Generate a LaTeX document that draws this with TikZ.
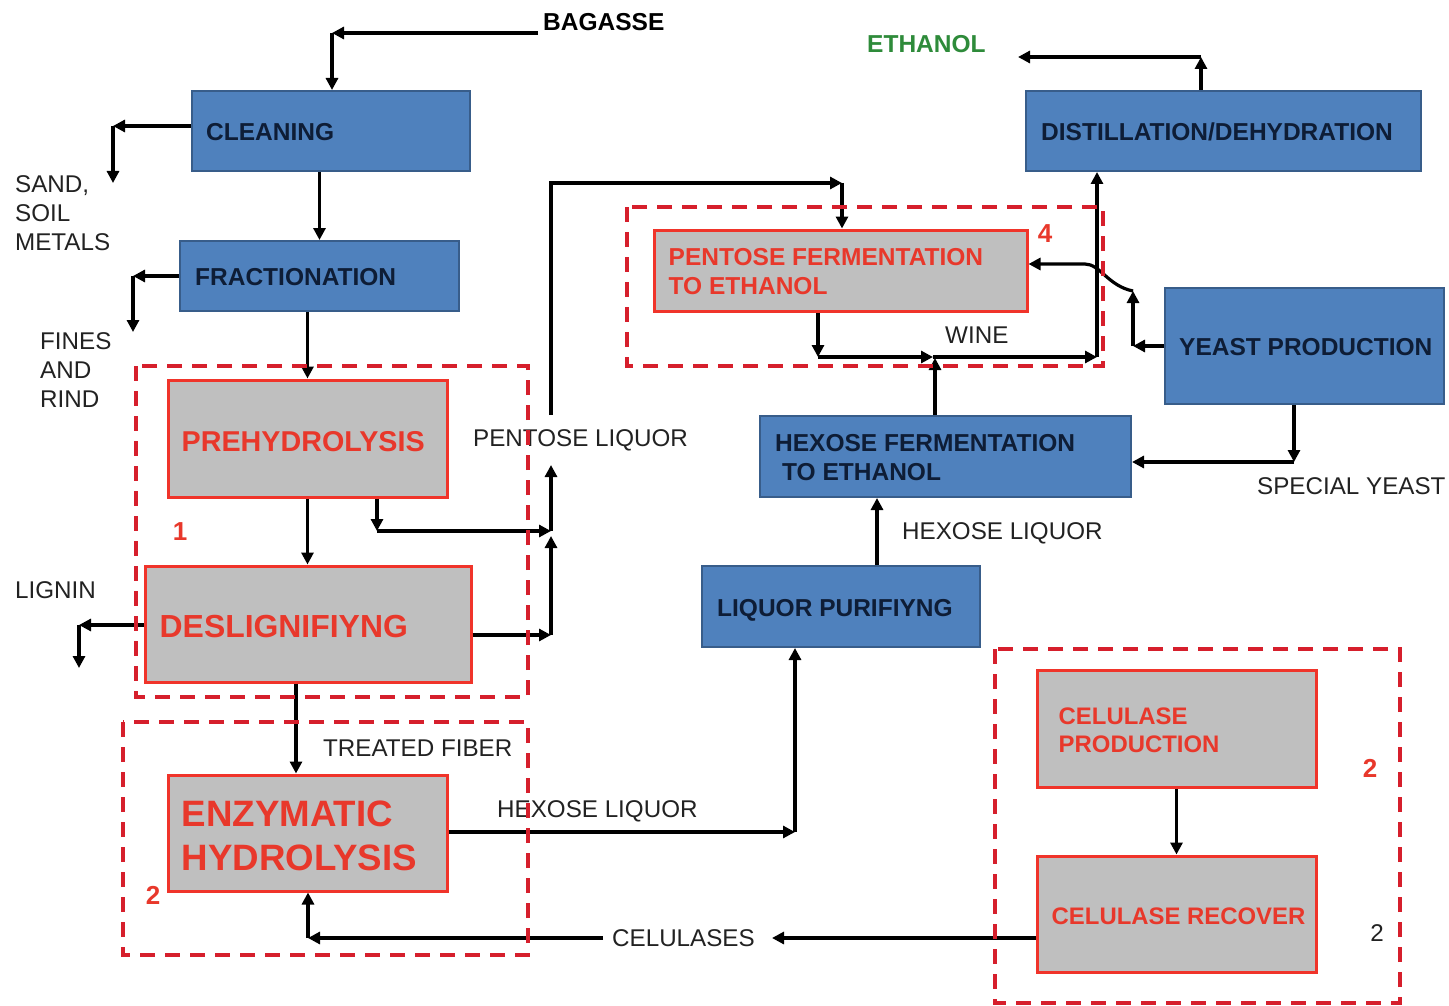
\documentclass[tikz,border=0pt]{standalone}
\usepackage{fontspec}
\setmainfont{Liberation Sans}
\usetikzlibrary{arrows.meta,calc}
\definecolor{bfill}{HTML}{4F81BD}
\definecolor{bborder}{HTML}{385D8A}
\definecolor{navy}{HTML}{0E1D36}
\definecolor{gfill}{HTML}{BFBFBF}
\definecolor{rborder}{HTML}{F0342A}
\definecolor{rtext}{HTML}{E8382B}
\definecolor{dashred}{HTML}{D61F2C}
\definecolor{ethgreen}{HTML}{2E8B3A}
\definecolor{txt}{HTML}{222222}
\begin{document}
\begin{tikzpicture}[x=1pt,y=-1pt,
 arr/.style={line width=3.2pt,-{Triangle[length=12pt,width=12pt]}},
 bbox/.style={draw=bborder,line width=2pt,fill=bfill,inner sep=0pt},
 gbox/.style={draw=rborder,line width=3pt,fill=gfill,inner sep=0pt},
 btxt/.style={anchor=west,inner sep=0pt,align=left,text=navy,font=\fontsize{24.5}{29}\selectfont\bfseries},
 gtxt/.style={anchor=west,inner sep=0pt,align=left,text=rtext,font=\fontsize{24.5}{29}\selectfont\bfseries},
 lbl/.style={anchor=west,inner sep=0pt,align=left,text=txt,font=\fontsize{24.2}{29}\selectfont},
 num/.style={inner sep=0pt,text=rtext,font=\fontsize{26}{30}\selectfont\bfseries},
 grp/.style={draw=dashred,line width=3.5pt,dash pattern=on 15pt off 10pt}
]
\fill[white] (0,0) rectangle (1449,1006);
\useasboundingbox (0,0) rectangle (1449,1006);

% blue boxes
\node[bbox,minimum width=278pt,minimum height=80pt] (clean) at (331,131) {};
\node[btxt] (cleant) at ($(clean.west)+(15,1)$) {CLEANING};
\node[bbox,minimum width=279pt,minimum height=70pt] (frac) at (319.5,276) {};
\node[btxt] (fract) at ($(frac.west)+(16,1)$) {FRACTIONATION};
\node[bbox,minimum width=395pt,minimum height=80pt] (dist) at (1223.5,131) {};
\node[btxt] (distt) at ($(dist.west)+(16,1)$) {DISTILLATION/DEHYDRATION};
\node[bbox,minimum width=279pt,minimum height=116pt] (yeast) at (1304.5,346) {};
\node[btxt] (yeastt) at ($(yeast.west)+(15,1)$) {YEAST PRODUCTION};
\node[bbox,minimum width=371pt,minimum height=81pt] (hexf) at (945.5,456.5) {};
\node[btxt] (hexft) at ($(hexf.west)+(16,1)$) {HEXOSE FERMENTATION\\\hspace*{7pt}TO ETHANOL};
\node[bbox,minimum width=278pt,minimum height=81pt] (liqp) at (841,606.5) {};
\node[btxt] (liqpt) at ($(liqp.west)+(16,4)$) {LIQUOR PURIFIYNG};

% gray boxes
\node[gbox,minimum width=373pt,minimum height=81pt] (pent) at (840.5,270.5) {};
\node[gtxt] (pentt) at ($(pent.west)+(16,1)$) {PENTOSE FERMENTATION\\TO ETHANOL};
\node[gbox,minimum width=279pt,minimum height=117pt] (prehyd) at (307.5,438.5) {};
\node[gtxt,font=\fontsize{28.7}{34}\selectfont\bfseries] (prehydt) at ($(prehyd.west)+(15,3)$) {PREHYDROLYSIS};
\node[gbox,minimum width=326pt,minimum height=116pt] (deslig) at (308,624) {};
\node[gtxt,font=\fontsize{31.9}{38}\selectfont\bfseries] (desligt) at ($(deslig.west)+(16,3)$) {DESLIGNIFIYNG};
\node[gbox,minimum width=279pt,minimum height=116pt] (enz) at (307.5,833) {};
\node[gtxt,font=\fontsize{36.7}{44}\selectfont\bfseries] (enzt) at ($(enz.west)+(15,3)$) {ENZYMATIC\\HYDROLYSIS};
\node[gbox,minimum width=279pt,minimum height=117pt] (celp) at (1176.5,728.5) {};
\node[gtxt,font=\fontsize{23.9}{28}\selectfont\bfseries] (celpt) at ($(celp.west)+(23,1.5)$) {CELULASE\\PRODUCTION};
\node[gbox,minimum width=279pt,minimum height=116pt] (celr) at (1176.5,914) {};
\node[gtxt,font=\fontsize{23.9}{28}\selectfont\bfseries] (celrt) at ($(celr.west)+(16,2)$) {CELULASE RECOVER};

% labels
\node[lbl,text=black,font=\fontsize{24.5}{29}\selectfont\bfseries] (bagasse) at (543,22) {BAGASSE};
\node[lbl,text=ethgreen,font=\fontsize{24.5}{29}\selectfont\bfseries] (ethanol) at (867,44) {ETHANOL};
\node[lbl] (sand) at (15,213) {SAND,\\SOIL\\METALS};
\node[lbl] (fines) at (40,370) {FINES\\AND\\RIND};
\node[lbl] (lignin) at (15,590) {LIGNIN};
\node[lbl] (pentliq) at (473,440) {PENTOSE LIQUOR};
\node[lbl] (wine) at (945,335) {WINE};
\node[lbl] (spyeast) at (1257,486) {SPECIAL YEAST};
\node[lbl] (hexliq1) at (902,533) {HEXOSE LIQUOR};
\node[lbl] (treated) at (323,748) {TREATED FIBER};
\node[lbl] (hexliq2) at (497,811) {HEXOSE LIQUOR};
\node[lbl] (celulases) at (612,938) {CELULASES};
\node[num] (n1) at (180,532) {1};
\node[num] (n2) at (153,895) {2};
\node[num] (n4) at (1045,234) {4};
\node[num] (n2b) at (1370,768) {2};
\node[lbl,anchor=center] (n2c) at (1377,933) {2};

% connectors
\coordinate (bagin) at (538,33);
\coordinate (c1) at (332,33);
\draw[arr] (bagin) -- (c1);
\draw[arr] (c1) -- (c1 |- clean.north);
\coordinate (c2) at (113,126);
\coordinate (sandend) at (113,183);
\draw[arr] (clean.west |- c2) -- (c2);
\draw[arr] (c2) -- (sandend);
\draw[arr] (frac.north |- clean.south) -- (frac.north);
\coordinate (c3) at (133,276);
\coordinate (finesend) at (133,332);
\draw[arr] (frac.west) -- (c3);
\draw[arr] (c3) -- (finesend);
\draw[arr] (prehyd.north |- frac.south) -- (prehyd.north);
\draw[arr] (prehyd.south) -- (prehyd.south |- deslig.north);
\coordinate (c4) at (377,531);
\coordinate (jp) at (551,531);
\draw[arr] (c4 |- prehyd.south) -- (c4);
\draw[arr] (c4) -- (jp);
\coordinate (c5) at (551,635);
\coordinate (c5t) at (551,536);
\draw[arr] (c5 -| deslig.east) -- (c5);
\draw[arr] (c5) -- (c5t);
\coordinate (pl1) at (551,465);
\draw[arr] (jp) -- (pl1);
\coordinate (pl2) at (551,415);
\coordinate (c6) at (551,183);
\coordinate (c7) at (842,183);
\draw[arr] (pl2) -- (c6) -- (c7);
\draw[arr] (c7) -- (c7 |- pent.north);
\coordinate (c8) at (818,357);
\coordinate (wmid) at (933,357);
\coordinate (c9) at (1097,357);
\draw[arr] (c8 |- pent.south) -- (c8);
\draw[arr] (c8) -- (wmid);
\draw[arr] (wmid) -- (c9);
\draw[arr] (c9) -- (c9 |- dist.south);
\coordinate (hx) at (935,358);
\draw[arr] (hx |- hexf.north) -- (hx);
\coordinate (c10) at (1133,346);
\coordinate (c11) at (1133,291);
\coordinate (c12) at (1085,264);
\draw[arr] (yeast.west) -- (c10);
\draw[arr] (c10) -- (c11);
\draw[arr] (c11) .. controls (1108,286) and (1100,264) .. (c12) -- (c12 -| pent.east);
\coordinate (c13) at (1201,57);
\coordinate (ethend) at (1018,57);
\draw[arr] (c13 |- dist.north) -- (c13);
\draw[arr] (c13) -- (ethend);
\coordinate (c14) at (1294,462);
\draw[arr] (c14 |- yeast.south) -- (c14);
\draw[arr] (c14) -- (c14 -| hexf.east);
\coordinate (x877) at (877,530);
\draw[arr] (x877 |- liqp.north) -- (x877 |- hexf.south);
\coordinate (x296) at (296,720);
\draw[arr] (x296 |- deslig.south) -- (x296 |- enz.north);
\coordinate (c15) at (795,832);
\draw[arr] (enz.east |- c15) -- (c15);
\draw[arr] (c15) -- (c15 |- liqp.south);
\coordinate (celend) at (772,938);
\coordinate (celstart) at (603,938);
\coordinate (c16) at (308,938);
\draw[arr] (celr.west |- celend) -- (celend);
\draw[arr] (celstart) -- (c16);
\draw[arr] (c16) -- (c16 |- enz.south);
\draw[arr] (celp.south) -- (celr.north);
\coordinate (c17) at (79,625);
\coordinate (lignend) at (79,668);
\draw[arr] (deslig.west |- c17) -- (c17);
\draw[arr] (c17) -- (lignend);

% dashed groups
\draw[grp] (136,366) rectangle (528,697);
\draw[grp] (123,722) rectangle (528,955);
\draw[grp] (627,207) rectangle (1103,366);
\draw[grp] (995,649) rectangle (1400,1003);
\end{tikzpicture}
\end{document}
